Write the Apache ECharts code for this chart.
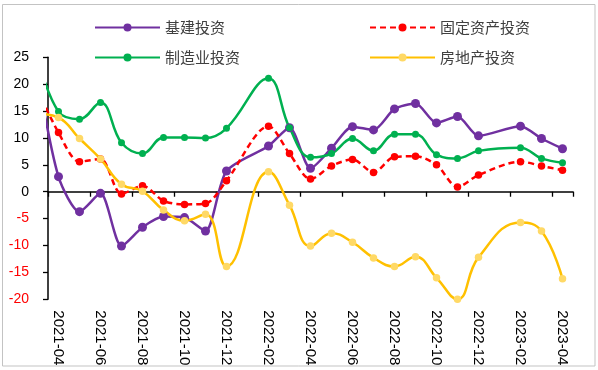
<!DOCTYPE html>
<html><head><meta charset="utf-8">
<script src="https://cdn.jsdelivr.net/npm/echarts@6/dist/echarts.min.js"></script>
<style>html,body{margin:0;padding:0;background:#fff}#c{width:598px;height:370px}</style>
</head><body><div id="c"></div>
<script>
// categories (2021-03 is only the clipped lead-in at the left edge)
var months = ['2021-03','2021-04','2021-05','2021-06','2021-07','2021-08','2021-09','2021-10','2021-11','2021-12','2022-01','2022-02','2022-03','2022-04','2022-05','2022-06','2022-07','2022-08','2022-09','2022-10','2022-11','2022-12','2023-01','2023-02','2023-03','2023-04'];
var infra   = [22, 2.8, -3.7, -0.3, -10.1, -6.6, -4.6, -4.8, -7.3, 3.85, null, 8.5, 11.9, 4.35, 8.1, 12.1, 11.5, 15.4, 16.4, 12.8, 14.0, 10.4, null, 12.2, 9.9, 8.0];
var fixedAsset = [19, 11.0, 5.6, 6.1, -0.4, 1.1, -1.7, -2.35, -2.2, 2.05, null, 12.2, 7.1, 2.35, 4.8, 6.0, 3.6, 6.5, 6.6, 5.0, 0.9, 3.1, null, 5.6, 4.8, 4.0];
var manuf   = [25, 14.9, 13.5, 16.6, 9.1, 7.1, 10.1, 10.1, 10.0, 11.8, null, 21.1, 11.9, 6.4, 7.1, 9.9, 7.6, 10.7, 10.7, 6.9, 6.2, 7.6, null, 8.2, 6.2, 5.4];
var realty  = [14.5, 13.8, 9.9, 6.1, 1.4, 0.1, -3.4, -5.4, -4.2, -13.9, null, 3.7, -2.5, -10.1, -7.7, -9.4, -12.3, -13.9, -12.1, -16.0, -20.0, -12.2, null, -5.7, -7.3, -16.2];
var seriesNames = ['基建投资','固定资产投资','制造业投资','房地产投资'];
var yTicks = [-20, -15, -10, -5, 0, 5, 10, 15, 20, 25];

var chart = echarts.init(document.getElementById('c'), null, {renderer:'canvas'});
var txtFont = '"Noto Sans CJK SC", sans-serif';
var numFont = '"Liberation Sans", Arial, sans-serif';
function legendAt(name, left, top){
  return {data:[name], left:left, top:top, itemWidth:65, itemHeight:10, itemGap:0,
    textStyle:{fontFamily:txtFont, fontSize:15, color:'#404040'}, selectedMode:false};
}
var oddIdx = function(i){ return i % 2 === 1; };
var option = {
  animation:false,
  backgroundColor:'#fff',
  graphic:[{type:'rect', shape:{x:2.5, y:4.5, width:592.5, height:361.5}, style:{fill:'none', stroke:'#C3C3C3', lineWidth:1}, silent:true}],
  legend:[legendAt(seriesNames[0], 89, 15), legendAt(seriesNames[1], 364, 15), legendAt(seriesNames[2], 89, 45), legendAt(seriesNames[3], 364, 45)],
  grid:{left:48, right:25, top:57.3, bottom:70.7, containLabel:false},
  xAxis:[{
    type:'category', data:months, min:1, boundaryGap:true, position:'top',
    axisLine:{show:true, onZero:true, lineStyle:{color:'#000', width:1.5}},
    axisTick:{show:true, inside:true, length:5, interval:oddIdx, lineStyle:{color:'#000', width:1.3}},
    axisLabel:{show:false}, splitLine:{show:false}
  },{
    type:'category', data:months, min:1, boundaryGap:true, position:'bottom',
    axisLine:{show:false, onZero:false}, axisTick:{show:false},
    axisLabel:{show:true, interval:oddIdx, rotate:-90, margin:11, fontFamily:numFont, fontSize:15, color:'#000'},
    splitLine:{show:false}
  }],
  yAxis:{
    type:'value', min:yTicks[0], max:yTicks[yTicks.length-1], interval:5,
    axisLine:{show:true, lineStyle:{color:'#000', width:1.5}},
    axisTick:{show:true, length:5, lineStyle:{color:'#000', width:1.3}},
    axisLabel:{margin:19, fontFamily:numFont, fontSize:14,
      color:function(v){ return Number(v) < 0 ? '#FF0000' : '#000'; }},
    splitLine:{show:false}
  },
  series:[
    {name:seriesNames[0], type:'line', data:infra, connectNulls:true, smooth:0.25,
     symbol:'circle', symbolSize:9, showAllSymbol:true,
     lineStyle:{color:'#7030A0', width:2.5}, itemStyle:{color:'#7030A0'}},
    {name:seriesNames[1], type:'line', data:fixedAsset, connectNulls:true, smooth:0.3,
     symbol:'circle', symbolSize:7.5, showAllSymbol:true,
     lineStyle:{color:'#FF0000', width:2.5, type:[6,4]}, itemStyle:{color:'#FF0000'}},
    {name:seriesNames[2], type:'line', data:manuf, connectNulls:true, smooth:0.4,
     symbol:'circle', symbolSize:7, showAllSymbol:true,
     lineStyle:{color:'#00B050', width:2.5}, itemStyle:{color:'#00B050'}},
    {name:seriesNames[3], type:'line', data:realty, connectNulls:true, smooth:0.45,
     symbol:'circle', symbolSize:7.5, showAllSymbol:true,
     lineStyle:{color:'#FFC000', width:2.5}, itemStyle:{color:'#FFD966'}}
  ]
};
chart.setOption(option);
</script>
</body></html>
